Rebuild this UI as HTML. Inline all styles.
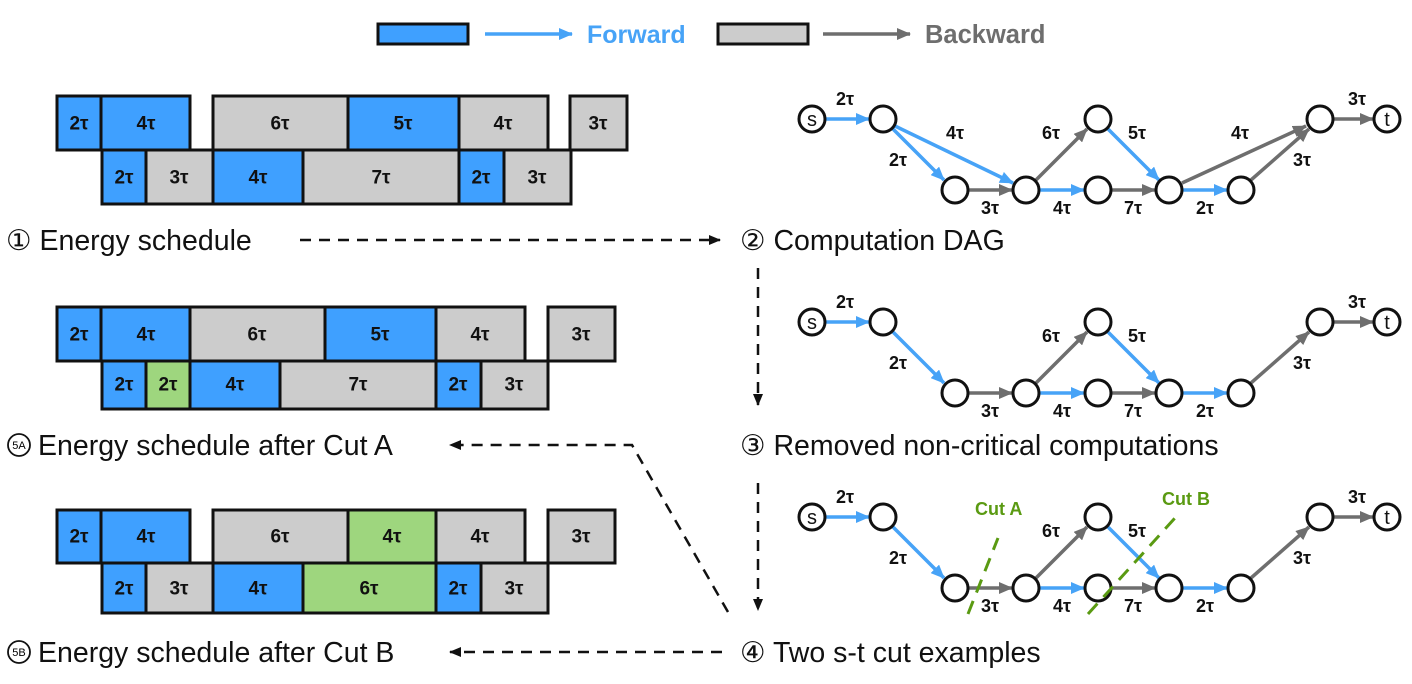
<!DOCTYPE html>
<html><head><meta charset="utf-8"><style>
body{margin:0;background:#fff}
svg{display:block}
.b{font-family:"Liberation Sans",sans-serif;font-weight:bold;font-size:19px;text-anchor:middle;dominant-baseline:central;fill:#111}
.L{font-family:"Liberation Sans","DejaVu Sans",sans-serif;font-size:28.5px;fill:#111}
</style></head><body>
<svg width="1412" height="684" viewBox="0 0 1412 684" xmlns="http://www.w3.org/2000/svg">
<defs>
<marker id="ab" markerUnits="userSpaceOnUse" markerWidth="14" markerHeight="12" refX="13" refY="6" orient="auto"><path d="M0,0 L14,6 L0,12 z" fill="#47a3f7"/></marker>
<marker id="ag" markerUnits="userSpaceOnUse" markerWidth="14" markerHeight="12" refX="13" refY="6" orient="auto"><path d="M0,0 L14,6 L0,12 z" fill="#6e6e6e"/></marker>
<marker id="ak" markerUnits="userSpaceOnUse" markerWidth="12" markerHeight="10" refX="11" refY="5" orient="auto"><path d="M0,0 L12,5 L0,10 z" fill="#111"/></marker>
</defs>
<!-- legend -->
<rect x="378" y="24" width="90" height="20" fill="#3fa0ff" stroke="#111" stroke-width="3"/>
<line x1="485" y1="34" x2="572" y2="34" stroke="#47a3f7" stroke-width="3.5" marker-end="url(#ab)"/>
<text x="587" y="43" font-family="Liberation Sans,sans-serif" font-weight="bold" font-size="25" fill="#47a3f7">Forward</text>
<rect x="718" y="24" width="90" height="20" fill="#cccccc" stroke="#111" stroke-width="3"/>
<line x1="823" y1="34" x2="910" y2="34" stroke="#6e6e6e" stroke-width="3.5" marker-end="url(#ag)"/>
<text x="925" y="43" font-family="Liberation Sans,sans-serif" font-weight="bold" font-size="25.5" fill="#6e6e6e">Backward</text>

<g stroke="#111" stroke-width="3">
<rect x="57" y="96" width="44" height="54" fill="#3fa0ff"/><rect x="101" y="96" width="89" height="54" fill="#3fa0ff"/>
<rect x="213" y="96" width="135" height="54" fill="#ccc"/><rect x="348" y="96" width="111" height="54" fill="#3fa0ff"/>
<rect x="459" y="96" width="89" height="54" fill="#ccc"/><rect x="570" y="96" width="57" height="54" fill="#ccc"/>
<rect x="102" y="150" width="44" height="54" fill="#3fa0ff"/><rect x="146" y="150" width="67" height="54" fill="#ccc"/>
<rect x="213" y="150" width="90" height="54" fill="#3fa0ff"/><rect x="303" y="150" width="156" height="54" fill="#ccc"/>
<rect x="459" y="150" width="45" height="54" fill="#3fa0ff"/><rect x="504" y="150" width="67" height="54" fill="#ccc"/>
<rect x="57" y="307" width="44" height="54" fill="#3fa0ff"/><rect x="101" y="307" width="89" height="54" fill="#3fa0ff"/>
<rect x="190" y="307" width="135" height="54" fill="#ccc"/><rect x="325" y="307" width="111" height="54" fill="#3fa0ff"/>
<rect x="436" y="307" width="89" height="54" fill="#ccc"/><rect x="548" y="307" width="67" height="54" fill="#ccc"/>
<rect x="102" y="361" width="44" height="48" fill="#3fa0ff"/><rect x="146" y="361" width="44" height="48" fill="#9ed67e"/>
<rect x="190" y="361" width="90" height="48" fill="#3fa0ff"/><rect x="280" y="361" width="156" height="48" fill="#ccc"/>
<rect x="436" y="361" width="45" height="48" fill="#3fa0ff"/><rect x="481" y="361" width="67" height="48" fill="#ccc"/>
<rect x="57" y="510" width="44" height="53" fill="#3fa0ff"/><rect x="101" y="510" width="89" height="53" fill="#3fa0ff"/>
<rect x="213" y="510" width="135" height="53" fill="#ccc"/><rect x="348" y="510" width="88" height="53" fill="#9ed67e"/>
<rect x="436" y="510" width="89" height="53" fill="#ccc"/><rect x="548" y="510" width="67" height="53" fill="#ccc"/>
<rect x="102" y="563" width="44" height="50" fill="#3fa0ff"/><rect x="146" y="563" width="67" height="50" fill="#ccc"/>
<rect x="213" y="563" width="90" height="50" fill="#3fa0ff"/><rect x="303" y="563" width="133" height="50" fill="#9ed67e"/>
<rect x="436" y="563" width="45" height="50" fill="#3fa0ff"/><rect x="481" y="563" width="67" height="50" fill="#ccc"/>
</g>
<g class="b">
<text x="79" y="124">2τ</text><text x="146" y="124">4τ</text><text x="280" y="124">6τ</text><text x="403" y="124">5τ</text><text x="503" y="124">4τ</text><text x="598" y="124">3τ</text>
<text x="124" y="178">2τ</text><text x="179" y="178">3τ</text><text x="258" y="178">4τ</text><text x="381" y="178">7τ</text><text x="481" y="178">2τ</text><text x="537" y="178">3τ</text>
<text x="79" y="335">2τ</text><text x="146" y="335">4τ</text><text x="257" y="335">6τ</text><text x="380" y="335">5τ</text><text x="480" y="335">4τ</text><text x="581" y="335">3τ</text>
<text x="124" y="385">2τ</text><text x="168" y="385">2τ</text><text x="235" y="385">4τ</text><text x="358" y="385">7τ</text><text x="458" y="385">2τ</text><text x="514" y="385">3τ</text>
<text x="79" y="537">2τ</text><text x="146" y="537">4τ</text><text x="280" y="537">6τ</text><text x="392" y="537">4τ</text><text x="480" y="537">4τ</text><text x="581" y="537">3τ</text>
<text x="124" y="589">2τ</text><text x="179" y="589">3τ</text><text x="258" y="589">4τ</text><text x="369" y="589">6τ</text><text x="458" y="589">2τ</text><text x="514" y="589">3τ</text>
</g>

<text class="L" x="6" y="250">① Energy schedule</text>
<circle cx="19" cy="445" r="11" fill="none" stroke="#111" stroke-width="1.8"/><text x="19" y="449" font-family="Liberation Sans,sans-serif" font-size="11" text-anchor="middle">5A</text>
<text class="L" x="38" y="455">Energy schedule after Cut A</text>
<circle cx="19" cy="652" r="11" fill="none" stroke="#111" stroke-width="1.8"/><text x="19" y="656" font-family="Liberation Sans,sans-serif" font-size="11" text-anchor="middle">5B</text>
<text class="L" x="38" y="662">Energy schedule after Cut B</text>
<text class="L" x="740" y="250">② Computation DAG</text>
<text class="L" x="740" y="455">③ Removed non-critical computations</text>
<text class="L" x="740" y="662">④ Two s-t cut examples</text>

<g stroke="#111" stroke-width="2.5" stroke-dasharray="11,8" fill="none">
<line x1="300" y1="240" x2="720" y2="240" marker-end="url(#ak)"/>
<line x1="758" y1="268" x2="758" y2="405" marker-end="url(#ak)"/>
<line x1="758" y1="483" x2="758" y2="610" marker-end="url(#ak)"/>
<polyline points="728,612 632,445 450,445" marker-end="url(#ak)"/>
<line x1="722" y1="652" x2="450" y2="652" marker-end="url(#ak)"/>
</g>

<g stroke-width="3.5" fill="none">
<line x1="826" y1="119" x2="869" y2="119" stroke="#47a3f7" marker-end="url(#ab)"/>
<line x1="893" y1="129" x2="944" y2="180" stroke="#47a3f7" marker-end="url(#ab)"/>
<line x1="895" y1="126" x2="1013" y2="183" stroke="#47a3f7" marker-end="url(#ab)"/>
<line x1="969" y1="190" x2="1012" y2="190" stroke="#6e6e6e" marker-end="url(#ag)"/>
<line x1="1036" y1="180" x2="1087" y2="129" stroke="#6e6e6e" marker-end="url(#ag)"/>
<line x1="1040" y1="190" x2="1084" y2="190" stroke="#47a3f7" marker-end="url(#ab)"/>
<line x1="1108" y1="129" x2="1159" y2="180" stroke="#47a3f7" marker-end="url(#ab)"/>
<line x1="1112" y1="190" x2="1155" y2="190" stroke="#6e6e6e" marker-end="url(#ag)"/>
<line x1="1183" y1="190" x2="1227" y2="190" stroke="#47a3f7" marker-end="url(#ab)"/>
<line x1="1182" y1="183" x2="1306" y2="126" stroke="#6e6e6e" marker-end="url(#ag)"/>
<line x1="1251" y1="180" x2="1309" y2="129" stroke="#6e6e6e" marker-end="url(#ag)"/>
<line x1="1334" y1="119" x2="1373" y2="119" stroke="#6e6e6e" marker-end="url(#ag)"/>
</g>
<g fill="#fff" stroke="#111" stroke-width="3">
<circle cx="812" cy="119" r="13"/><circle cx="883" cy="119" r="13"/><circle cx="955" cy="190" r="13"/><circle cx="1026" cy="190" r="13"/><circle cx="1098" cy="119" r="13"/><circle cx="1098" cy="190" r="13"/><circle cx="1169" cy="190" r="13"/><circle cx="1241" cy="190" r="13"/><circle cx="1320" cy="119" r="13"/><circle cx="1387" cy="119" r="13"/>
</g>
<g font-family="Liberation Sans,sans-serif" font-size="20" text-anchor="middle" fill="#111">
<text x="812" y="126">s</text><text x="1387" y="126">t</text></g>
<g class="b" style="font-size:18px">
<text x="845" y="99">2τ</text><text x="898" y="160">2τ</text><text x="955" y="133">4τ</text><text x="990" y="208">3τ</text><text x="1051" y="133">6τ</text><text x="1062" y="208">4τ</text><text x="1137" y="133">5τ</text><text x="1133" y="208">7τ</text><text x="1205" y="208">2τ</text><text x="1240" y="133">4τ</text><text x="1302" y="160">3τ</text><text x="1357" y="99">3τ</text>
</g>

<g id="d2" transform="translate(0,203)">
<g stroke-width="3.5" fill="none">
<line x1="826" y1="119" x2="869" y2="119" stroke="#47a3f7" marker-end="url(#ab)"/>
<line x1="893" y1="129" x2="944" y2="180" stroke="#47a3f7" marker-end="url(#ab)"/>
<line x1="969" y1="190" x2="1012" y2="190" stroke="#6e6e6e" marker-end="url(#ag)"/>
<line x1="1036" y1="180" x2="1087" y2="129" stroke="#6e6e6e" marker-end="url(#ag)"/>
<line x1="1040" y1="190" x2="1084" y2="190" stroke="#47a3f7" marker-end="url(#ab)"/>
<line x1="1108" y1="129" x2="1159" y2="180" stroke="#47a3f7" marker-end="url(#ab)"/>
<line x1="1112" y1="190" x2="1155" y2="190" stroke="#6e6e6e" marker-end="url(#ag)"/>
<line x1="1183" y1="190" x2="1227" y2="190" stroke="#47a3f7" marker-end="url(#ab)"/>
<line x1="1251" y1="180" x2="1309" y2="129" stroke="#6e6e6e" marker-end="url(#ag)"/>
<line x1="1334" y1="119" x2="1373" y2="119" stroke="#6e6e6e" marker-end="url(#ag)"/>
</g>
<g fill="#fff" stroke="#111" stroke-width="3">
<circle cx="812" cy="119" r="13"/><circle cx="883" cy="119" r="13"/><circle cx="955" cy="190" r="13"/><circle cx="1026" cy="190" r="13"/><circle cx="1098" cy="119" r="13"/><circle cx="1098" cy="190" r="13"/><circle cx="1169" cy="190" r="13"/><circle cx="1241" cy="190" r="13"/><circle cx="1320" cy="119" r="13"/><circle cx="1387" cy="119" r="13"/>
</g>
<g font-family="Liberation Sans,sans-serif" font-size="20" text-anchor="middle" fill="#111">
<text x="812" y="126">s</text><text x="1387" y="126">t</text></g>
<g class="b" style="font-size:18px">
<text x="845" y="99">2τ</text><text x="898" y="160">2τ</text><text x="990" y="208">3τ</text><text x="1051" y="133">6τ</text><text x="1062" y="208">4τ</text><text x="1137" y="133">5τ</text><text x="1133" y="208">7τ</text><text x="1205" y="208">2τ</text><text x="1302" y="160">3τ</text><text x="1357" y="99">3τ</text>
</g>
</g>
<use href="#d2" y="195"/>

<g stroke="#5a9a12" stroke-width="3" stroke-dasharray="14,9">
<line x1="968" y1="614" x2="998" y2="538"/>
<line x1="1088" y1="614" x2="1175" y2="518"/>
</g>
<g font-family="Liberation Sans,sans-serif" font-weight="bold" font-size="18" fill="#5a9a12">
<text x="975" y="515">Cut A</text><text x="1162" y="505">Cut B</text></g>
</svg>
</body></html>
